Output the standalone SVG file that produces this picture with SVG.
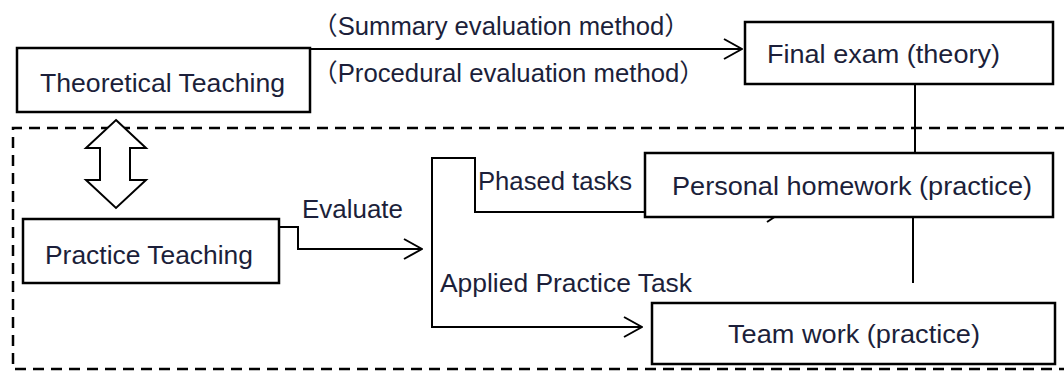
<svg xmlns="http://www.w3.org/2000/svg" width="1064" height="372" viewBox="0 0 1064 372">
<defs>
<style>
.box{fill:#fff;stroke:#000;stroke-width:2.5}
.t{font-family:"Liberation Sans","Noto Sans CJK SC",sans-serif;font-size:25px;fill:#1c1f3a}
.c{fill:none;stroke:#000;stroke-width:2}
.dash{fill:none;stroke:#000;stroke-width:2.5;stroke-dasharray:11 7}
</style>
<marker id="arr" viewBox="0 0 20 22" refX="19" refY="11" markerWidth="20" markerHeight="22" markerUnits="userSpaceOnUse" orient="auto">
<path d="M1,1 L19,11 L1,21" fill="none" stroke="#000" stroke-width="2"/>
</marker>
</defs>
<rect width="1064" height="372" fill="#fff"/>
<path class="dash" d="M1066,128 L13,128 L13,369 L1066,369"/>
<g id="connectors">
<path class="c" d="M310,49 L742,49" marker-end="url(#arr)"/>
<path class="c" d="M915,84 L915,153"/>
<path class="c" d="M279,227 L298,227 L298,249 L422,249" marker-end="url(#arr)"/>
<path class="c" d="M645,212 L475,212 L475,158 L432,158 L432,327 L642,327" marker-end="url(#arr)"/>
<path class="c" d="M767,222 L776,216"/>
<path class="c" d="M913,215 L913,283"/>
<polygon points="116,120 146,148 130,148 130,180 146,180 116,208 86,180 100,180 100,148 86,148" fill="#fff" stroke="#000" stroke-width="2"/>
<text class="t" x="312" y="35" textLength="378" lengthAdjust="spacingAndGlyphs">（Summary evaluation method）</text>
<text class="t" x="312" y="82" textLength="393" lengthAdjust="spacingAndGlyphs">（Procedural evaluation method）</text>
<text class="t" x="302" y="218" textLength="101" lengthAdjust="spacingAndGlyphs">Evaluate</text>
<text class="t" x="478" y="190" textLength="154" lengthAdjust="spacingAndGlyphs">Phased tasks</text>
<text class="t" x="440" y="292" textLength="252" lengthAdjust="spacingAndGlyphs">Applied Practice Task</text>
</g>
<g id="theoretical">
<rect class="box" x="17" y="48" width="293" height="64"/>
<text class="t" x="40" y="92" textLength="245" lengthAdjust="spacingAndGlyphs">Theoretical Teaching</text>
</g>
<g id="final">
<rect class="box" x="745" y="22" width="308" height="62"/>
<text class="t" x="767" y="63" textLength="233" lengthAdjust="spacingAndGlyphs">Final exam (theory)</text>
</g>
<g id="practice">
<rect class="box" x="23" y="219" width="256" height="64"/>
<text class="t" x="45" y="264" textLength="208" lengthAdjust="spacingAndGlyphs">Practice Teaching</text>
</g>
<g id="personal">
<rect class="box" x="645" y="153" width="408" height="64"/>
<text class="t" x="672" y="195" textLength="360" lengthAdjust="spacingAndGlyphs">Personal homework (practice)</text>
</g>
<g id="team">
<rect class="box" x="652" y="303" width="403" height="61"/>
<text class="t" x="728" y="343" textLength="252" lengthAdjust="spacingAndGlyphs">Team work (practice)</text>
</g>
</svg>
